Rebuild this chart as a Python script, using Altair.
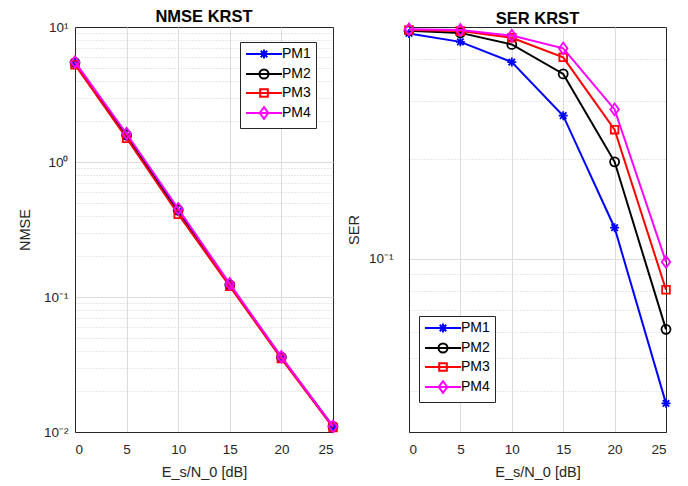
import altair as alt
import pandas as pd

# ---------------- data ----------------
snr = [0, 5, 10, 15, 20, 25]
series_names = ["PM1", "PM2", "PM3", "PM4"]
series_colors = ["#0000ff", "#000000", "#ff0000", "#ff00ff"]

nmse_pm1 = [5.40, 1.55, 0.430, 0.122, 0.0355, 0.0109]
nmse_pm2 = [5.45, 1.58, 0.440, 0.123, 0.0358, 0.0110]
nmse_pm3 = [5.25, 1.50, 0.410, 0.120, 0.0350, 0.0108]
nmse_pm4 = [5.50, 1.62, 0.450, 0.125, 0.0360, 0.0110]

ser_pm1 = [0.478, 0.451, 0.392, 0.270, 0.124, 0.0366]
ser_pm2 = [0.487, 0.480, 0.443, 0.361, 0.196, 0.0612]
ser_pm3 = [0.490, 0.486, 0.464, 0.405, 0.245, 0.0806]
ser_pm4 = [0.492, 0.490, 0.471, 0.431, 0.282, 0.0978]

nmse_ticks = [0.01, 0.02, 0.03, 0.04, 0.05, 0.06, 0.07, 0.08, 0.09,
              0.1, 0.2, 0.3, 0.4, 0.5, 0.6, 0.7, 0.8, 0.9,
              1, 2, 3, 4, 5, 6, 7, 8, 9, 10]
nmse_major = [0.01, 0.1, 1, 10]
ser_ticks = [0.04, 0.05, 0.06, 0.07, 0.08, 0.09, 0.1, 0.2, 0.3, 0.4]
ser_major = [0.1]

# marker shapes (unit paths)
m_ast = "M-1,0L1,0M0,-1L0,1M-0.72,-0.72L0.72,0.72M-0.72,0.72L0.72,-0.72"
m_circ = "M1,0A1,1 0 1,1 -1,0A1,1 0 1,1 1,0Z"
m_sq = "M-0.85,-0.85L0.85,-0.85L0.85,0.85L-0.85,0.85Z"
m_dia = "M0,-1.3L0.95,0L0,1.3L-0.95,0Z"
markers = [m_ast, m_circ, m_sq, m_dia]
legend_paths = ["M-4,0L4,0" + m for m in markers]

FONT = "Liberation Sans"
AX = "#262626"


def long_df(cols):
    rows = []
    for name, vals in zip(series_names, cols):
        for x, y in zip(snr, vals):
            rows.append({"x": x, "y": y, "series": name})
    return pd.DataFrame(rows)


def panel(df, ydomain, yticks, major, label_expr, ytitle, title, title_offset,
          width, height, legend_x, legend_y, y_label_pad, y_extent, y_title_pad,
          top_value):
    major_test = "indexof(%s, datum.value) >= 0" % str(major)
    xenc = alt.X(
        "x:Q",
        scale=alt.Scale(domain=[0, 25], nice=False),
        axis=alt.Axis(
            values=snr, title="E_s/N_0 [dB]", grid=True, gridColor="#dcdcdc",
            gridOpacity={"condition": {"test": "datum.value >= 25", "value": 0}, "value": 1},
            ticks=False, tickSize=0, labelPadding=10, titlePadding=10,
            labelFontSize=13.5, titleFontSize=14.5,
        ),
    )
    yenc = alt.Y(
        "y:Q",
        scale=alt.Scale(type="log", domain=ydomain, nice=False),
        axis=alt.Axis(
            values=yticks, labelExpr=label_expr, title=ytitle, labelOverlap=False,
            grid=True,
            gridDash={"condition": {"test": major_test, "value": []}, "value": [1, 2]},
            gridColor={"condition": {"test": major_test, "value": "#dcdcdc"}, "value": "#cfcfcf"},
            gridOpacity={"condition": {"test": "datum.value >= %s" % top_value, "value": 0}, "value": 1},
            ticks=False, tickSize=0, labelPadding=y_label_pad,
            minExtent=y_extent, maxExtent=y_extent, titlePadding=y_title_pad,
            labelFontSize=13.5, titleFontSize=14.5,
        ),
    )
    layers = []
    for name, col, shp in zip(series_names, series_colors, markers):
        base = alt.Chart(df).transform_filter(alt.datum.series == name)
        layers.append(base.mark_line(color=col, strokeWidth=2).encode(x=xenc, y=yenc))
        layers.append(
            base.mark_point(shape=shp, color=col, size=81, strokeWidth=1.8,
                            filled=False, opacity=1).encode(x=xenc, y=yenc)
        )
    leg = alt.Legend(
        orient="none", legendX=legend_x, legendY=legend_y, title=None,
        symbolSize=81, symbolStrokeWidth=2, symbolOffset=12, labelOffset=11,
        labelFontSize=14, labelFont=FONT, labelColor="#000000",
        padding=5, rowPadding=2, strokeColor=AX, fillColor="#ffffff",
        cornerRadius=0, symbolFillColor="transparent",
    )
    legend_layer = (
        alt.Chart(df)
        .transform_filter("false")
        .mark_point(filled=False, strokeWidth=2, size=81, opacity=1)
        .encode(
            x=xenc, y=yenc,
            color=alt.Color("series:N", scale=alt.Scale(domain=series_names, range=series_colors), legend=leg),
            shape=alt.Shape("series:N", scale=alt.Scale(domain=series_names, range=legend_paths), legend=leg),
        )
    )
    layers.append(legend_layer)
    return alt.layer(*layers).properties(
        width=width, height=height,
        title=alt.TitleParams(title, fontSize=16.5, fontWeight="bold", font=FONT,
                              color="#000000", offset=title_offset),
    )


nmse_expr = ("datum.value == 10 ? '10\u00b9' : datum.value == 1 ? '10\u2070' : "
             "datum.value == 0.1 ? '10\u207b\u00b9' : datum.value == 0.01 ? '10\u207b\u00b2' : ''")
ser_expr = "datum.value == 0.1 ? '10\u207b\u00b9' : ''"

left = panel(long_df([nmse_pm1, nmse_pm2, nmse_pm3, nmse_pm4]), [0.01, 10], nmse_ticks,
             nmse_major, nmse_expr, "NMSE", "NMSE KRST", -5, 258, 405, 165, 15,
             7, 36, 7, 10)
right = panel(long_df([ser_pm1, ser_pm2, ser_pm3, ser_pm4]), [0.03, 0.5], ser_ticks,
              ser_major, ser_expr, "SER", "SER KRST", -8, 257, 405, 10, 289,
              16, 41, 7, 0.5)

chart = (
    alt.hconcat(left, right, spacing=3)
    .resolve_scale(color="independent", shape="independent")
    .resolve_legend(color="independent", shape="independent")
    .properties(padding={"left": 8, "top": 0, "right": 5, "bottom": 0})
    .configure(font=FONT)
    .configure_axis(labelColor=AX, titleColor=AX, domainColor=AX, labelFont=FONT,
                    titleFont=FONT, titleFontWeight="normal")
    .configure_view(stroke=AX, strokeWidth=1)
)

chart.save("out.html", embed_options={"renderer": "svg", "actions": False})
